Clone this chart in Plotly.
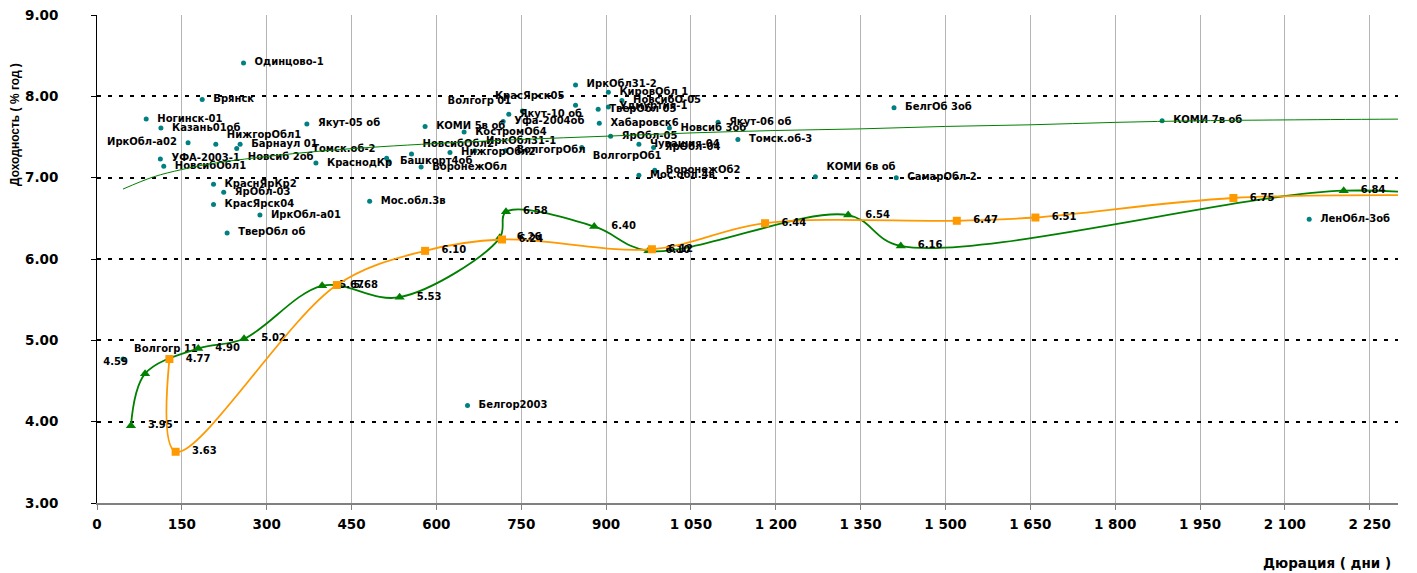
import plotly.graph_objects as go

# ---------------- data ----------------
bond_names = [
    "Одинцово-1", "Брянск", "Ногинск-01", "Казань01об", "ИркОбл-а02", "НижгорОбл1",
    "Барнаул 01", "Новсиб 2об", "Якут-05 об", "УФА-2003-1", "НовсибОбл1", "КраснодКр",
    "Томск.об-2", "Башкорт4об", "НовсибОбл2", "ВоронежОбл", "НижгорОбл2", "ИркОбл31-1",
    "ВолгогрОбл", "КОМИ 5в об", "КостромОб4", "Уфа-2004об", "Якут-10 об", "Волгогр 01",
    "КрасЯрск05", "ИркОбл31-2", "КировОбл 1", "НовсибО-05", "Удмуртия-1", "ТверОбл 05",
    "Хабаровск6", "Новсиб 3об", "ЯрОбл-05", "ВолгогрОб1", "Чувашия-04", "ЯрОбл-04",
    "ВоронежОб2", "Мос.обл.4в", "Якут-06 об", "Томск.об-3", "БелгОб 3об", "КОМИ 6в об",
    "СамарОбл 2", "КОМИ 7в об", "ЛенОбл-3об", "Мос.обл.3в", "КраснЯрКр2", "ЯрОбл-03",
    "КрасЯрск04", "ИркОбл-а01", "ТверОбл об", "Белгор2003", "Волгогр 11",
]
bond_duration = [
    259, 186, 87, 113, 161, 210,
    253, 247, 371, 112, 118, 387,
    512, 516, 556, 573, 624, 668,
    722, 580, 649, 718, 728, 752,
    846, 846, 904, 928, 904, 886,
    888, 1012, 908, 857, 958, 984,
    986, 958, 1098, 1133, 1409, 1270,
    1413, 1883, 2143, 482, 206, 224,
    206, 288, 230, 655, 46,
]
bond_yield = [
    8.41, 7.96, 7.72, 7.61, 7.43, 7.41,
    7.41, 7.36, 7.66, 7.23, 7.14, 7.18,
    7.24, 7.20, 7.29, 7.13, 7.31, 7.33,
    7.33, 7.63, 7.56, 7.69, 7.78, 7.82,
    7.89, 8.14, 8.05, 7.95, 7.87, 7.84,
    7.67, 7.61, 7.51, 7.37, 7.41, 7.37,
    7.09, 7.03, 7.68, 7.47, 7.86, 7.01,
    7.00, 7.70, 6.49, 6.71, 6.92, 6.82,
    6.67, 6.54, 6.32, 4.20, 4.77,
]

green_duration = [60, 85, 179, 260, 398, 535, 712, 723, 879, 975, 1328, 1421, 2204, 2450]
green_yield = [3.95, 4.59, 4.90, 5.02, 5.67, 5.53, 6.26, 6.58, 6.40, 6.10, 6.54, 6.16, 6.84, 6.72]

orange_duration = [128, 139, 424, 580, 716, 981, 1181, 1520, 1659, 2009, 2450]
orange_yield = [4.77, 3.63, 5.68, 6.10, 6.24, 6.12, 6.44, 6.47, 6.51, 6.75, 6.78]

trend_duration = [46, 100, 150, 200, 300, 400, 500, 600, 750, 900, 1050, 1200,
                  1350, 1500, 1650, 1800, 1950, 2100, 2300]
trend_yield = [6.86, 7.01, 7.10, 7.17, 7.26, 7.33, 7.38, 7.42, 7.47, 7.51, 7.55, 7.58,
               7.60, 7.63, 7.65, 7.68, 7.70, 7.71, 7.72]

x_range = [0, 2300]
y_range = [3, 9]
x_tick_vals = [0, 150, 300, 450, 600, 750, 900, 1050, 1200, 1350, 1500, 1650, 1800, 1950, 2100, 2250]
x_tick_text = ["0", "150", "300", "450", "600", "750", "900", "1 050", "1 200", "1 350",
               "1 500", "1 650", "1 800", "1 950", "2 100", "2 250"]
y_tick_vals = [3, 4, 5, 6, 7, 8, 9]
y_tick_text = ["3.00", "4.00", "5.00", "6.00", "7.00", "8.00", "9.00"]

x_title = "Дюрация ( дни )"
y_title = "Доходность ( % год )"

# ---------------- label placement (style) ----------------
special_pos = {
    "ИркОбл-а02": "middle left", "НижгорОбл1": "top right", "Новсиб 2об": "bottom right",
    "Томск.об-2": "top left", "НовсибОбл2": "top right", "ИркОбл31-1": "top right",
    "Волгогр 01": "top left", "КрасЯрск05": "top left", "ВолгогрОб1": "bottom right",
    "КОМИ 6в об": "top right", "Волгогр 11": "top right",
}
bond_text_pos = [special_pos.get(n, "middle right") for n in bond_names]
green_text_pos = ["middle right", "top left"] + ["middle right"] * (len(green_yield) - 2)
orange_text_pos = ["middle right"] * len(orange_yield)

NB = "\u00a0"


def pad(label, pos, n):
    # Excel leaves a wider gap between a marker and its data label
    return (NB * n + label) if pos.endswith("right") else (label + NB * n)


def value_labels(xs, ys, positions):
    # points past the right end of the axis only shape the curve; they carry no visible label
    return [pad(f"{v:.2f}", p, 3) if d <= x_range[1] else ""
            for d, v, p in zip(xs, ys, positions)]


bond_labels = [pad(t, p, 2) for t, p in zip(bond_names, bond_text_pos)]
green_labels = value_labels(green_duration, green_yield, green_text_pos)
orange_labels = value_labels(orange_duration, orange_yield, orange_text_pos)

FONT = "DejaVu Sans"
label_font = dict(family=FONT, size=10, color="black", weight="bold")

TEAL = "#008080"
GREEN = "#008000"
ORANGE = "#FF9900"

fig = go.Figure()

fig.add_trace(go.Scatter(
    x=bond_duration, y=bond_yield, mode="markers+text",
    text=bond_labels, textposition=bond_text_pos, textfont=label_font,
    marker=dict(color=TEAL, size=5), showlegend=False, hoverinfo="skip",
))

fig.add_trace(go.Scatter(
    x=trend_duration, y=trend_yield, mode="lines",
    line=dict(color=GREEN, width=1, shape="spline"), showlegend=False, hoverinfo="skip",
))

fig.add_trace(go.Scatter(
    x=green_duration, y=green_yield, mode="lines+markers+text",
    text=green_labels, textposition=green_text_pos, textfont=label_font,
    line=dict(color=GREEN, width=1.8, shape="spline", smoothing=1.0),
    marker=dict(symbol="triangle-up", size=9, color=GREEN),
    showlegend=False, hoverinfo="skip",
))

fig.add_trace(go.Scatter(
    x=orange_duration, y=orange_yield, mode="lines+markers+text",
    text=orange_labels, textposition=orange_text_pos, textfont=label_font,
    line=dict(color=ORANGE, width=1.8, shape="spline", smoothing=1.0),
    marker=dict(symbol="square", size=8, color=ORANGE),
    showlegend=False, hoverinfo="skip",
))

# the page body keeps an 8px margin, so the figure is sized to end at the window edge
fig.update_layout(
    width=1409, height=565,
    margin=dict(l=89, r=19, t=7, b=70),
    paper_bgcolor="white", plot_bgcolor="white",
    font=dict(family=FONT, size=13, color="black"),
    showlegend=False,
)

fig.update_xaxes(
    range=x_range, tickmode="array", tickvals=x_tick_vals, ticktext=x_tick_text,
    showgrid=True, gridcolor="#B4B4B4", gridwidth=1.2,
    showline=True, linecolor="#808080", linewidth=2,
    ticks="outside", ticklen=5, tickcolor="#808080",
    tickfont=dict(family=FONT, size=13.5, color="black", weight="bold"),
    ticklabelstandoff=3, ticklabeloverflow="allow", zeroline=False, automargin=False,
)
fig.update_yaxes(
    range=y_range, tickmode="array", tickvals=y_tick_vals, ticktext=y_tick_text,
    showgrid=True, gridcolor="black", gridwidth=1.6, griddash="4px,7px",
    showline=True, linecolor="black", linewidth=1,
    ticks="outside", ticklen=5, tickcolor="black",
    tickfont=dict(family=FONT, size=13.5, color="black", weight="bold"),
    ticklabelstandoff=30, ticklabeloverflow="allow", zeroline=False, automargin=False,
)

fig.add_annotation(
    text=x_title, xref="paper", yref="paper", x=(1327 - 97) / 1301, y=-(563 - 503) / 488,
    xanchor="center", yanchor="middle", showarrow=False,
    font=dict(family=FONT, size=13.5, color="black", weight="bold"),
)
fig.add_annotation(
    text=y_title, xref="paper", yref="paper", x=(15 - 97) / 1301, y=(503 - 125) / 488,
    xanchor="center", yanchor="middle", showarrow=False, textangle=-90,
    font=dict(family="Liberation Sans", size=12, color="black", weight="bold"),
)

fig.write_html("out.html")
